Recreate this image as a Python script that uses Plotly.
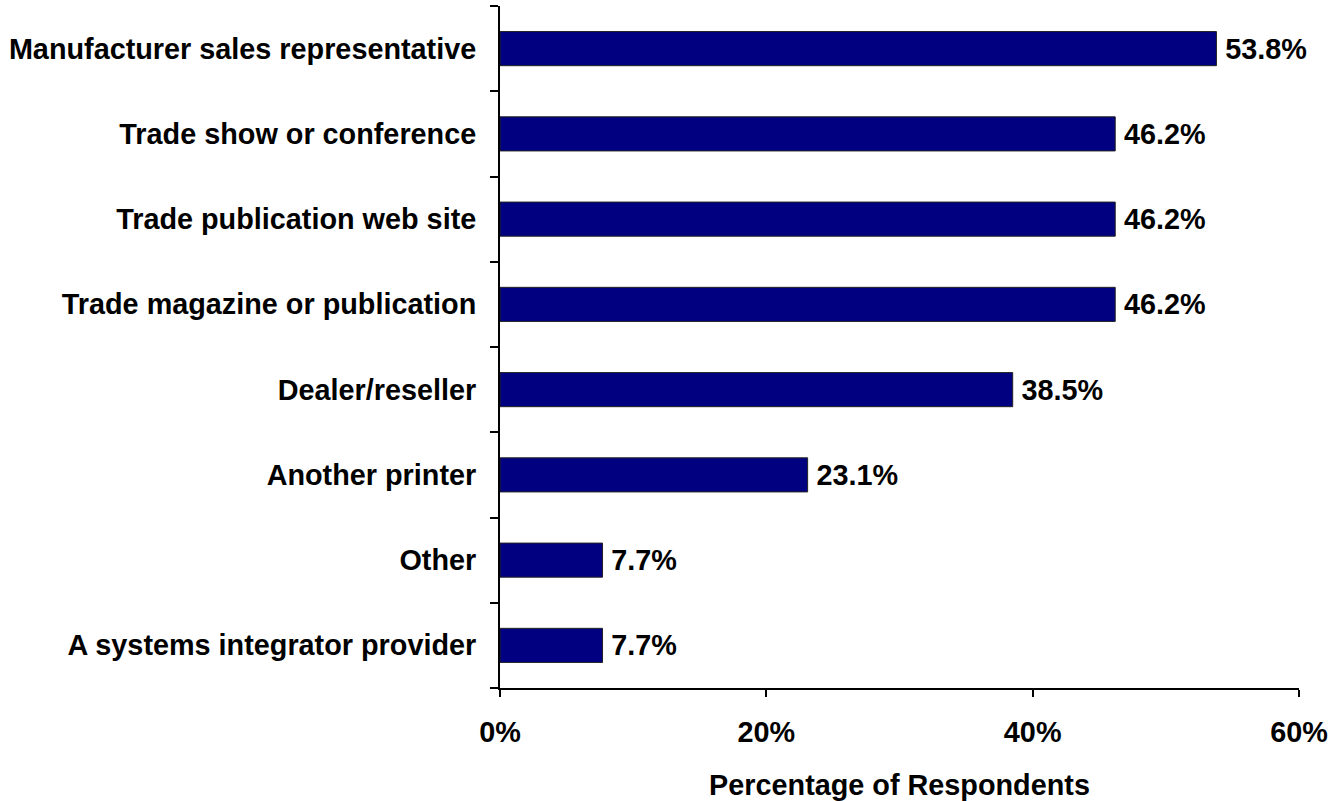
import plotly.graph_objects as go

# Survey categories, bottom to top as drawn
categories = [
    "A systems integrator provider",
    "Other",
    "Another printer",
    "Dealer/reseller",
    "Trade magazine or publication",
    "Trade publication web site",
    "Trade show or conference",
    "Manufacturer sales representative",
]
values = [7.7, 7.7, 23.1, 38.5, 46.2, 46.2, 46.2, 53.8]
x_ticks = [0, 20, 40, 60]
x_tick_labels = ["0%", "20%", "40%", "60%"]

FONT = "Arial, 'Liberation Sans', sans-serif"
SIZE = 28.8

fig = go.Figure(
    go.Bar(
        y=categories,
        x=values,
        orientation="h",
        width=0.4,
        marker=dict(color="#000080", line=dict(color="#222222", width=1)),
        text=[f"\u2009{v:.1f}%" for v in values],
        textposition="outside",
        textfont=dict(family=FONT, size=SIZE, color="black", weight="bold"),
        cliponaxis=False,
    )
)

fig.update_layout(
    width=1329,
    height=801,
    margin=dict(l=500, r=30, t=6, b=113),
    plot_bgcolor="white",
    paper_bgcolor="white",
    showlegend=False,
    uniformtext=dict(mode=False),
    font=dict(family=FONT, size=SIZE, color="black", weight="bold"),
)

fig.update_xaxes(
    range=[0, 60],
    tickvals=x_ticks,
    ticktext=x_tick_labels,
    automargin=False,
    showgrid=False,
    zeroline=False,
    showline=True,
    linecolor="black",
    linewidth=2,
    ticks="outside",
    ticklen=7,
    tickwidth=2,
    tickcolor="black",
    ticklabelstandoff=10,
    tickfont=dict(family=FONT, size=SIZE, weight="bold"),
    title=dict(
        text="Percentage of Respondents",
        font=dict(family=FONT, size=SIZE, weight="bold"),
        standoff=30,
    ),
)

fig.update_yaxes(
    type="category",
    categoryorder="array",
    categoryarray=categories,
    automargin=False,
    showgrid=False,
    zeroline=False,
    showline=True,
    linecolor="black",
    linewidth=2,
    ticks="outside",
    tickson="boundaries",
    ticklen=8,
    tickwidth=2,
    tickcolor="black",
    ticklabelstandoff=16,
    tickfont=dict(family=FONT, size=SIZE, weight="bold"),
)

fig.write_html("out.html")
